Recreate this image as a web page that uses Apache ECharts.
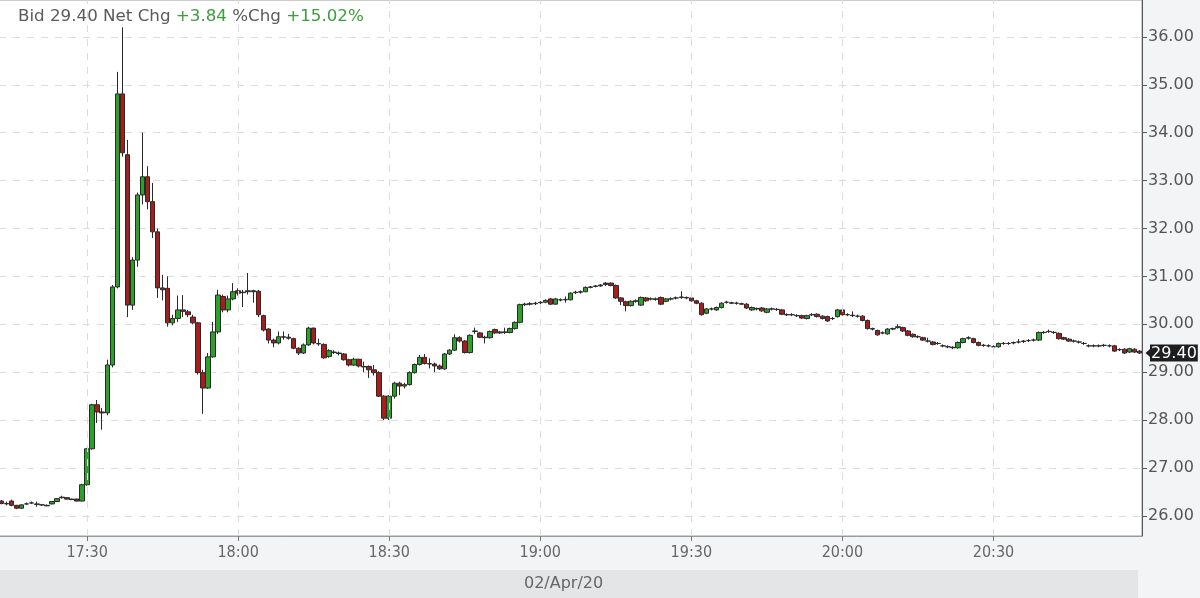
<!DOCTYPE html>
<html>
<head>
<meta charset="utf-8">
<script src="https://cdn.jsdelivr.net/npm/echarts@6/dist/echarts.min.js"></script>
<style>
html,body{margin:0;padding:0;background:#f3f4f6;}
#chart{width:1200px;height:598px;}
</style>
</head>
<body>
<div id="chart"></div>
<script>
// ---- data ----
const firstMinute = '17:13';
const minuteCount = 227;
const tickTimes = ['17:30','18:00','18:30','19:00','19:30','20:00','20:30'];
const dateLabel = '02/Apr/20';
const bidText = '29.40';
const netChgText = '+3.84';
const pctChgText = '+15.02%';
const lastPrice = 29.40;
// [open, close, low, high] per minute
const ohlc = [
[26.31,26.26,26.24,26.33],[26.26,26.25,26.22,26.30],[26.31,26.22,26.20,26.34],[26.22,26.16,26.14,26.23],
[26.16,26.23,26.15,26.24],[26.25,26.25,26.23,26.28],[26.27,26.27,26.25,26.30],[26.25,26.24,26.19,26.30],
[26.23,26.23,26.21,26.25],[26.21,26.22,26.20,26.24],[26.25,26.30,26.24,26.31],[26.30,26.36,26.29,26.37],
[26.38,26.39,26.36,26.42],[26.38,26.35,26.34,26.39],[26.35,26.34,26.33,26.36],[26.35,26.31,26.30,26.36],
[26.31,26.65,26.30,26.67],[26.65,27.40,26.63,27.42],[27.40,28.32,27.38,28.34],[28.32,28.17,27.94,28.42],
[28.17,28.15,27.80,28.25],[28.15,29.15,28.10,29.26],[29.15,30.78,29.10,30.82],[30.78,34.81,30.75,35.27],
[34.81,33.58,33.50,36.20],[33.54,30.40,30.15,33.85],[30.40,31.34,30.30,31.40],[31.34,32.70,31.20,32.75],
[32.70,33.08,32.50,34.00],[33.08,32.56,32.40,33.30],[32.56,31.93,31.80,32.95],[31.93,30.76,30.55,32.00],
[30.76,30.72,30.50,31.03],[30.75,30.03,29.95,31.00],[30.03,30.12,29.98,30.20],[30.12,30.30,30.05,30.60],
[30.30,30.27,30.15,30.61],[30.26,30.20,30.15,30.30],[30.15,30.03,30.00,30.20],[30.03,28.99,28.95,30.05],
[28.99,28.67,28.13,29.05],[28.67,29.32,28.65,29.40],[29.32,29.84,29.30,30.05],[29.84,30.61,29.80,30.72],
[30.58,30.30,30.25,30.62],[30.30,30.53,30.25,30.60],[30.53,30.68,30.50,30.86],[30.70,30.65,30.60,30.75],
[30.67,30.66,30.36,30.72],[30.68,30.70,30.62,31.07],[30.70,30.68,30.45,30.72],[30.69,30.20,30.15,30.72],
[30.18,29.88,29.85,30.20],[29.90,29.67,29.60,29.92],[29.67,29.61,29.52,29.70],[29.61,29.74,29.58,29.85],
[29.74,29.73,29.68,29.85],[29.73,29.71,29.68,29.80],[29.70,29.50,29.48,29.72],[29.50,29.40,29.36,29.52],
[29.40,29.57,29.38,29.60],[29.57,29.92,29.55,29.95],[29.92,29.61,29.58,29.93],[29.60,29.59,29.55,29.70],
[29.58,29.30,29.28,29.60],[29.33,29.45,29.30,29.48],[29.42,29.41,29.38,29.46],[29.40,29.39,29.35,29.43],
[29.38,29.26,29.24,29.40],[29.26,29.15,29.12,29.28],[29.15,29.27,29.13,29.30],[29.27,29.13,29.10,29.28],
[29.12,29.11,29.00,29.22],[29.12,29.05,28.88,29.14],[29.05,28.99,28.93,29.15],[28.99,28.50,28.48,29.02],
[28.50,28.04,28.00,28.52],[28.04,28.50,28.00,28.52],[28.50,28.77,28.45,28.80],[28.77,28.71,28.52,28.80],
[28.71,28.74,28.66,28.78],[28.74,28.99,28.72,29.02],[28.99,29.16,28.97,29.18],[29.16,29.31,29.14,29.36],
[29.31,29.18,29.16,29.38],[29.18,29.17,29.08,29.29],[29.17,29.13,29.00,29.20],[29.13,29.07,29.05,29.16],
[29.07,29.38,29.05,29.40],[29.38,29.46,29.36,29.48],[29.46,29.72,29.44,29.79],[29.72,29.65,29.62,29.75],
[29.65,29.41,29.39,29.67],[29.41,29.77,29.39,29.79],[29.85,29.86,29.80,29.93],[29.82,29.73,29.71,29.84],
[29.73,29.72,29.60,29.76],[29.72,29.85,29.70,29.87],[29.89,29.82,29.80,29.91],[29.84,29.82,29.80,29.86],
[29.83,29.84,29.80,29.93],[29.83,29.91,29.81,29.93],[29.91,30.04,29.89,30.06],[30.04,30.41,30.02,30.43],
[30.41,30.42,30.38,30.45],[30.42,30.43,30.39,30.46],[30.43,30.44,30.40,30.47],[30.45,30.46,30.42,30.48],
[30.46,30.50,30.44,30.52],[30.53,30.42,30.40,30.55],[30.42,30.53,30.41,30.55],[30.51,30.51,30.48,30.54],
[30.51,30.52,30.45,30.58],[30.51,30.65,30.50,30.67],[30.66,30.67,30.63,30.70],[30.67,30.68,30.64,30.71],
[30.68,30.77,30.67,30.79],[30.77,30.78,30.75,30.80],[30.79,30.80,30.77,30.82],[30.80,30.82,30.78,30.84],
[30.86,30.83,30.80,30.88],[30.86,30.81,30.79,30.87],[30.81,30.55,30.53,30.83],[30.55,30.48,30.40,30.57],
[30.47,30.39,30.27,30.49],[30.39,30.48,30.37,30.50],[30.48,30.49,30.45,30.52],[30.40,30.56,30.38,30.58],
[30.55,30.49,30.47,30.57],[30.53,30.53,30.50,30.56],[30.53,30.52,30.49,30.56],[30.56,30.42,30.40,30.58],
[30.48,30.53,30.46,30.55],[30.53,30.53,30.50,30.56],[30.55,30.55,30.52,30.58],[30.56,30.57,30.53,30.69],
[30.56,30.55,30.52,30.58],[30.55,30.49,30.47,30.57],[30.49,30.44,30.42,30.51],[30.44,30.20,30.18,30.46],
[30.23,30.32,30.21,30.34],[30.32,30.32,30.29,30.35],[30.30,30.35,30.28,30.37],[30.35,30.44,30.33,30.46],
[30.46,30.46,30.43,30.49],[30.45,30.44,30.42,30.47],[30.44,30.44,30.41,30.47],[30.43,30.42,30.40,30.45],
[30.42,30.34,30.32,30.44],[30.30,30.35,30.28,30.37],[30.33,30.32,30.29,30.35],[30.34,30.28,30.26,30.36],
[30.25,30.32,30.23,30.34],[30.32,30.32,30.29,30.35],[30.31,30.31,30.28,30.34],[30.30,30.21,30.19,30.32],
[30.20,30.20,30.17,30.23],[30.20,30.20,30.17,30.23],[30.18,30.18,30.15,30.21],[30.18,30.13,30.11,30.20],
[30.12,30.18,30.10,30.20],[30.20,30.20,30.17,30.23],[30.21,30.16,30.14,30.23],[30.17,30.12,30.10,30.19],
[30.16,30.07,30.05,30.18],[30.12,30.12,30.09,30.15],[30.16,30.30,30.14,30.32],[30.30,30.20,30.18,30.32],
[30.20,30.20,30.17,30.23],[30.19,30.18,30.15,30.27],[30.17,30.17,30.14,30.20],[30.17,30.08,30.06,30.19],
[30.08,29.91,29.89,30.10],[29.91,29.90,29.87,29.93],[29.87,29.78,29.76,29.89],[29.82,29.82,29.79,29.85],
[29.80,29.90,29.78,29.92],[29.90,29.91,29.88,29.93],[29.93,29.95,29.91,30.00],[29.93,29.86,29.84,29.95],
[29.86,29.77,29.75,29.88],[29.79,29.74,29.72,29.81],[29.74,29.74,29.71,29.77],[29.72,29.67,29.65,29.74],
[29.65,29.65,29.62,29.72],[29.63,29.58,29.56,29.65],[29.60,29.60,29.57,29.63],[29.55,29.55,29.52,29.58],
[29.53,29.53,29.50,29.56],[29.51,29.52,29.48,29.54],[29.51,29.62,29.49,29.64],[29.62,29.70,29.60,29.72],
[29.71,29.72,29.68,29.75],[29.70,29.62,29.60,29.72],[29.62,29.56,29.54,29.64],[29.56,29.56,29.53,29.59],
[29.55,29.55,29.52,29.58],[29.53,29.53,29.50,29.56],[29.53,29.60,29.51,29.62],[29.60,29.60,29.57,29.63],
[29.60,29.60,29.57,29.63],[29.61,29.62,29.58,29.64],[29.63,29.63,29.60,29.69],[29.64,29.65,29.61,29.67],
[29.66,29.66,29.63,29.69],[29.67,29.67,29.64,29.70],[29.67,29.83,29.65,29.85],[29.83,29.83,29.80,29.86],
[29.85,29.85,29.82,29.89],[29.83,29.83,29.80,29.86],[29.81,29.70,29.68,29.83],[29.72,29.69,29.67,29.74],
[29.69,29.65,29.63,29.71],[29.65,29.65,29.62,29.68],[29.63,29.63,29.60,29.66],[29.60,29.60,29.57,29.63],
[29.55,29.55,29.52,29.58],[29.55,29.55,29.52,29.58],[29.55,29.55,29.52,29.58],[29.56,29.56,29.53,29.59],
[29.55,29.55,29.52,29.58],[29.55,29.44,29.42,29.57],[29.47,29.47,29.44,29.50],[29.48,29.40,29.38,29.50],
[29.42,29.49,29.40,29.51],[29.48,29.42,29.40,29.50],[29.44,29.40,29.38,29.46]
];

// ---- minute categories ----
const times = [];
(function(){
  const p = firstMinute.split(':');
  let m = parseInt(p[0],10)*60 + parseInt(p[1],10);
  for (let i = 0; i < minuteCount; i++, m++) {
    const h = Math.floor(m/60), mm = m%60;
    times.push(h + ':' + (mm < 10 ? '0' : '') + mm);
  }
})();

const isTick = (idx, val) => tickTimes.indexOf(val) >= 0;
const gridColor = '#dcdcdc';

const chart = echarts.init(document.getElementById('chart'), null, {renderer: 'canvas'});
chart.setOption({
  animation: false,
  backgroundColor: '#f3f4f6',
  textStyle: {fontFamily: 'DejaVu Sans'},
  title: {
    left: 18, top: 8, padding: 0,
    text: '{g|Bid ' + bidText + ' Net Chg }{v|' + netChgText + '}{g| %Chg }{v|' + pctChgText + '}',
    textStyle: {
      fontWeight: 'normal',
      rich: {
        g: {color: '#5a5a5a', fontSize: 16.7, fontWeight: 'normal', fontFamily: 'DejaVu Sans'},
        v: {color: '#3a9e3a', fontSize: 16.7, fontWeight: 'normal', fontFamily: 'DejaVu Sans'}
      }
    }
  },
  graphic: [
    {type: 'rect', left: 0, top: 570, shape: {width: 1138, height: 28}, style: {fill: '#e4e5e7'}, z: -5},
    {type: 'text', left: 524, top: 576, style: {text: dateLabel, fill: '#666', font: '16px "DejaVu Sans"'}, z: -4}
  ],
  grid: {left: -1, right: 58, top: 0, bottom: 62, outerBoundsMode: 'none', containLabel: false,
         show: true, backgroundColor: '#ffffff', borderColor: '#9a9a9a', borderWidth: 1},
  xAxis: {
    type: 'category',
    data: times,
    boundaryGap: true,
    axisLine: {show: true, lineStyle: {color: '#9a9a9a'}},
    axisTick: {show: true, alignWithLabel: true, interval: isTick, length: 5, lineStyle: {color: '#777'}},
    axisLabel: {interval: isTick, color: '#666', fontSize: 16, margin: 9, fontFamily: '"DejaVu Sans Condensed", "DejaVu Sans"'},
    splitLine: {show: false}
  },
  yAxis: {
    type: 'value',
    position: 'right',
    min: 25.58, max: 36.77,
    minInterval: 1, maxInterval: 1,
    axisLine: {show: true, lineStyle: {color: '#555'}},
    axisTick: {show: true, length: 5, lineStyle: {color: '#555'}},
    axisLabel: {formatter: v => v.toFixed(2), color: '#555', fontSize: 16, margin: 6, showMinLabel: false, showMaxLabel: false},
    splitLine: {show: true, showMinLine: false, showMaxLine: false, lineStyle: {color: gridColor, type: [7, 7], width: 1}}
  },
  series: [
    {
      type: 'line', data: [], z: 1, silent: true,
      markLine: {
        silent: true, symbol: ['none', 'none'], animation: false,
        label: {show: false},
        lineStyle: {color: gridColor, type: [7, 7], width: 1},
        data: tickTimes.map(t => ({xAxis: t}))
      }
    },
    {
      type: 'candlestick',
      data: ohlc,
      barWidth: 5,
      z: 3,
      itemStyle: {color: '#2ba12b', color0: '#a81c1c', borderColor: '#2a2a2a', borderColor0: '#2a2a2a', borderWidth: 1},
      markPoint: {
        silent: true, animation: false,
        symbol: 'triangle', symbolSize: [14, 8], symbolRotate: 90,
        symbolOffset: [10, 0],
        itemStyle: {color: '#1e1e1e'},
        label: {show: false},
        data: [{coord: [times[times.length - 1], lastPrice]}]
      },
      markLine: {
        silent: true, symbol: ['none', 'none'], animation: false,
        lineStyle: {color: 'rgba(0,0,0,0)', width: 0, type: 'solid'},
        label: {
          show: true, position: 'end', distance: 8,
          formatter: '{b|' + lastPrice.toFixed(2) + '}',
          rich: {
            b: {color: '#ffffff', backgroundColor: '#1e1e1e', fontSize: 16, padding: [1, 1, 0, 1], fontFamily: 'DejaVu Sans'}
          }
        },
        data: [{yAxis: lastPrice}]
      }
    }
  ]
});
</script>
</body>
</html>
